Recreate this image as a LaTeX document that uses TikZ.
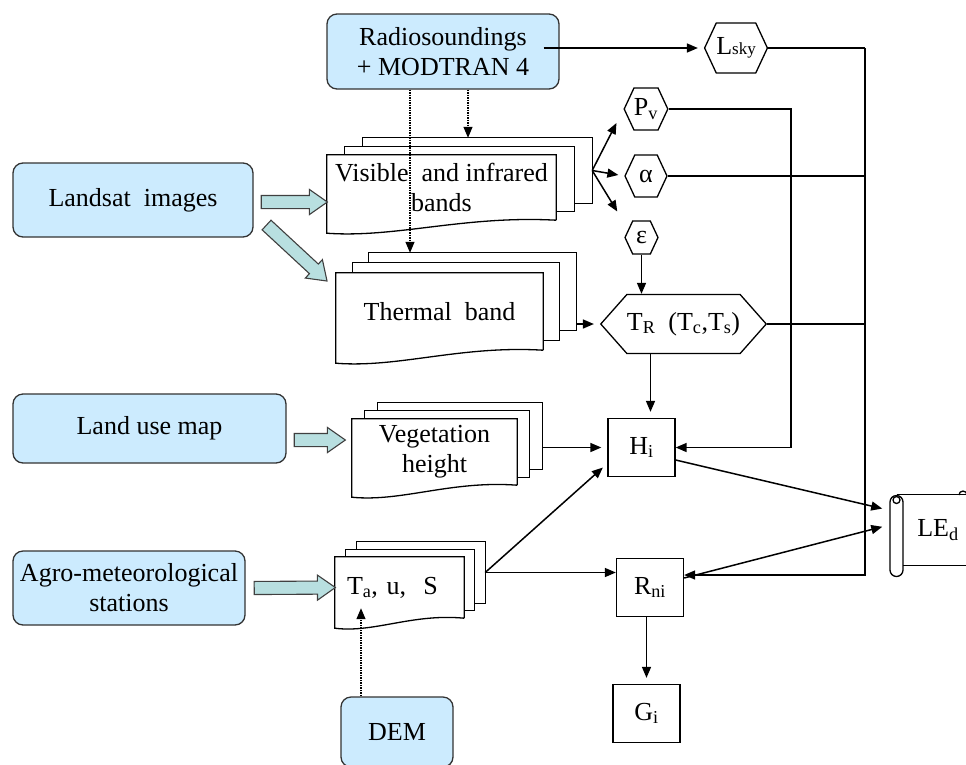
\documentclass[tikz,border=0pt]{standalone}
\usepackage{fontspec}
\setmainfont{Liberation Serif}
\usetikzlibrary{shapes.symbols,shapes.arrows,arrows.meta,calc,backgrounds}

\definecolor{srcblue}{HTML}{CCEBFE}
\definecolor{fatfill}{HTML}{B8DFE0}

\tikzset{
  every node/.style={font=\fontsize{26}{30}\selectfont},
  src/.style={draw=black!80, line width=1.3pt, fill=srcblue, rounded corners=10pt, align=center, inner sep=0pt},
  hexa/.style={draw, line width=1.3pt, signal, signal to=west and east, signal pointer angle=130, inner sep=0pt},
  varbox/.style={draw, line width=1.3pt, minimum width=67, minimum height=58, inner sep=0pt},
  sheetnode/.style={inner sep=0pt, align=center},
  sheet/.style={draw, line width=1.3pt, fill=white},
  link/.style={line width=1.5pt},
  arr/.style={link, -{Triangle[length=11pt,width=9pt]}, shorten >=6pt},
  arrin/.style={arr, shorten >=0pt},
  dotarr/.style={arr, densely dotted, line width=1.3pt, shorten >=0pt},
  bigarrow/.style={single arrow, draw=black!75, line width=1.1pt, fill=fatfill, inner xsep=0pt, inner ysep=6pt, single arrow head extend=6, single arrow tip angle=70},
}

% sheets behind a front page: name, left step, right step, rise
\newcommand\backsheets[4]{%
  \foreach \k in {2,1}
    \draw[sheet] ($(#1.north west)+(\k*#2,-\k*#4)$) rectangle ($(#1.south east)+(\k*#3,-\k*#4)$);
  \coordinate (#1b) at ($(#1.east)+(2*#3,-2*#4)$);
  \coordinate (#1t) at ($(#1.north)+(2*#2,-2*#4)$);}

% front page with a wavy foot
\newcommand\frontsheet[2]{%
  \draw[sheet] (#1.south east) -- (#1.north east) -- (#1.north west) -- ($(#1.south west)+(0,#2)$)
    .. controls ($(#1.south west)!0.3!(#1.south east)+(0,#2+5)$) and ($(#1.south west)!0.6!(#1.south east)+(0,-5)$) .. (#1.south east);}

% broad hollow arrow between two points
\newcommand\fatarrow[2]{%
  \path let \p1=(#1), \p2=(#2), \n1={atan2(\y2-\y1,\x2-\x1)}, \n2={veclen(\x2-\x1,\y2-\y1)} in
    node[bigarrow, minimum height=\n2, rotate=\n1, anchor=tail] at (\p1) {};}

\begin{document}
\begin{tikzpicture}[x=1pt,y=-1pt]
\clip (0,0) rectangle (966,764);

% data sources
\node[src, minimum width=232, minimum height=75] (radio) at (443,51.5) {Radiosoundings\\+ MODTRAN 4};
\node[src, minimum width=240, minimum height=74] (land) at (133,200) {Landsat\ \ images};
\node[src, minimum width=273, minimum height=69] (lum) at (149.5,428.5) {Land use map};
\node[src, minimum width=232, minimum height=74] (agro) at (129,588) {Agro-meteorological\\stations};
\node[src, minimum width=112, minimum height=70] (dem) at (397,732) {DEM};

% stacked pages
\node[sheetnode, minimum width=229, minimum height=65] (vis) at (441.5,187.5) {Visible\ \ and infrared\\bands};
\node[sheetnode, minimum width=207, minimum height=77] (th) at (439.5,311.5) {Thermal\ \ band};
\node[sheetnode, minimum width=165, minimum height=66] (veg) at (434.5,452) {Vegetation\\height};
\node[sheetnode, minimum width=129, minimum height=61, text width=105, inner xsep=12pt, align=left] (ta) at (399.5,587.5) {T\textsubscript{a}, u,\ \ S};

\begin{pgfonlayer}{background}
\backsheets{vis}{18}{18}{8.5}
\frontsheet{vis}{13}
\backsheets{th}{16.5}{16.5}{10}
\frontsheet{th}{13}
\backsheets{veg}{13}{12.5}{8}
\frontsheet{veg}{12}
\backsheets{ta}{11}{10.5}{7.5}
\frontsheet{ta}{10}
\end{pgfonlayer}

% parameters
\node[hexa, minimum width=59, minimum height=50] (lsky) at (736,48) {L{\fontsize{17}{17}\selectfont sky}};
\node[hexa, minimum width=42, minimum height=42] (pv) at (646,109) {P\textsubscript{v}};
\node[hexa, minimum width=42, minimum height=42] (alpha) at (646,176) {α};
\node[hexa, minimum width=33, minimum height=33] (eps) at (641.5,237.5) {ε};
\node[hexa, signal pointer angle=97, minimum width=133, minimum height=59] (tr) at (683.5,324) {T\textsubscript{R}\ \ (T\textsubscript{c},T\textsubscript{s})};

% fluxes
\node[varbox] (hi) at (641.5,447.5) {H\textsubscript{i}};
\node[varbox] (rni) at (650,587.5) {R\textsubscript{ni}};
\node[varbox] (gi) at (646.5,713.5) {G\textsubscript{i}};
\node[minimum width=82, minimum height=70, inner sep=0pt] (led) at (938,530) {LE\textsubscript{d}};

% scroll round LEd
\draw[line width=1.3pt] (led.north west) -- ++(100,0);
\draw[line width=1.3pt] ($(led.south west)+(6,0)$) -- ++(100,0);
\draw[line width=1.3pt, rounded corners=6.5pt] (890,495.5) rectangle (903,576.5);
\draw[line width=1.3pt] (896.5,500) circle (3.5);
\draw[line width=1.3pt] (959,495) arc (180:360:4);

% connectors
\coordinate (rd1) at ($(radio.south)+(25,0)$);
\coordinate (rd2) at ($(radio.south)+(-33,0)$);
\draw[arr] ($(radio.east |- lsky.west)+(-16,0)$) -- (lsky.west);
\draw[dotarr] (rd1) -- (rd1 |- vist);
\draw[dotarr] (rd2) -- (rd2 |- tht);

\draw[arrin] (visb) -- ($(pv.west)+(-7,14)$);
\draw[arr] (visb) -- (alpha.west);
\draw[arrin] (visb) -- ($(eps.west)+(-7,-26)$);

\coordinate (rbus) at (865,48);
\coordinate (lbus) at (791,109);
\draw[link] (lsky.east) -- (rbus);
\draw[arrin] (rbus) |- ($(rni.east)+(0,-12.5)$);
\draw[link] (alpha.east) -- (alpha.east -| rbus);
\draw[link] (tr.east) -- (tr.east -| rbus);
\draw[arrin] (pv.east) -- (lbus) |- (hi.east);

\draw[arrin] (eps.south) -- (eps.south |- tr.north);
\draw[arr] (thb |- tr.west) -- (tr.west);
\coordinate (hin) at ($(hi.north)+(9,0)$);
\draw[arr] (hin |- tr.south) -- (hin);
\draw[arr] (hi.west -| vegb) -- (hi.west);
\draw[arr] (tab) -- ($(hi.west)+(0,16)$);
\draw[arrin] (tab) -- (tab -| rni.west);
\draw[arr] (gi.north |- rni.south) -- (gi.north);
\draw[arr, shorten >=15pt] ($(hi.east)+(0,12.5)$) -- ($(led.west)+(0,-18)$);
\draw[arr, shorten >=15pt] ($(rni.east)+(0,-9.5)$) -- ($(led.west)+(0,-7)$);

\coordinate (demo) at ($(dem.north)+(-36,0)$);
\draw[dotarr] (demo) -- ($(demo |- ta.south)+(0,-10)$);

% broad arrows
\fatarrow{$(land.east)+(7,2)$}{$(vis.west)+(0,14.5)$}
\fatarrow{$(land.south east)+(12.5,-13)$}{$(th.north west)+(-9,8)$}
\fatarrow{$(lum.east)+(7,11.5)$}{$(veg.west)+(-7,-12)$}
\fatarrow{$(agro.east)+(8,0)$}{ta.west}
\end{tikzpicture}
\end{document}
